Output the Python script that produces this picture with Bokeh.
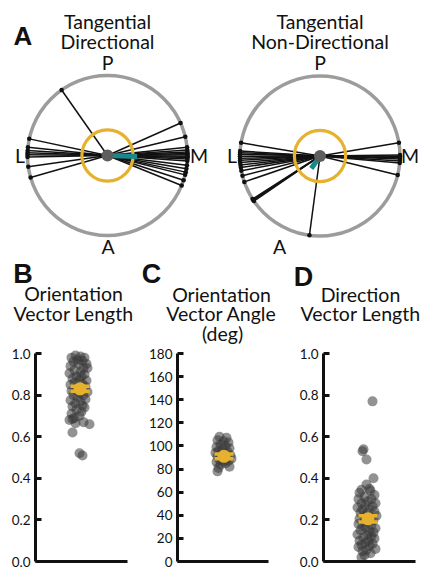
import numpy as np
from bokeh.plotting import figure
from bokeh.layouts import row, column
from bokeh.models import Label, FixedTicker, PrintfTickFormatter, BasicTickFormatter
from bokeh.embed import file_html
from bokeh.resources import INLINE

# ---------------- data ----------------
# Panel A: preferred angles (deg; 0 = M, 90 = P, 180 = L, 270 = A), unit-length vectors
dir_angles = [125, 24, 13.5, 6, 4, 2.5, 1.5, 0.5, -0.5, -1.5, -2.5, -4, -7, -9.5, -12, -14, -18, -22,
              168, 174, 176.5, 178, 179.5, 181, 188, 196]
dir_mean_angle = -2
dir_mean_len = 0.37

nondir_angles = [170.5, 176.5, 177.6, 178.8, 180.2, 181.7, 183.1, 184.7, 186.4, 188.3, 190.6, 194.3,
                 198.9, 212.5, 213.4, 214.3, 262.4, 9.5, 0.7, -0.2, -1.2, -2.1, -3.5, -5.1, -13.8]
nondir_mean_angle = 235
nondir_mean_len = 0.19
sig_radius = 0.32

# Panel B: orientation vector length
B_vals = [0.99, 0.985, 0.98, 0.98, 0.97, 0.965, 0.96, 0.95, 0.95, 0.94, 0.93, 0.93, 0.92, 0.91, 0.905,
          0.90, 0.89, 0.89, 0.88, 0.87, 0.87, 0.86, 0.855, 0.85, 0.84, 0.84, 0.83, 0.83, 0.82, 0.815,
          0.81, 0.80, 0.80, 0.79, 0.78, 0.775, 0.77, 0.76, 0.75, 0.745, 0.74, 0.73, 0.72, 0.71, 0.70,
          0.69, 0.685, 0.68, 0.67, 0.665, 0.66, 0.62, 0.52, 0.51]
B_jitter = [-3, 2, -7, 6, -1, 4, -5, 8, 0, -8, 5, 9, -4, 2, -9, 6, -2, 3, -6, 1, 8, -4, 4, -8, 0,
            7, -3, 3, -7, 9, 1, -5, 5, -1, 7, -8, 2, -3, 4, -6, 6, -2, 3, -7, 1, -4, -6, -9, 5, -3,
            11, -6, 1, 4]
B_mean, B_sem = 0.83, 0.012
B_ticks = [0, 0.2, 0.4, 0.6, 0.8, 1.0]

# Panel C: orientation vector angle (deg)
C_vals = [108, 107, 105, 104, 103, 101, 100, 99, 98, 97, 96, 95, 94, 93, 92, 92, 91, 90, 89, 88,
          87, 87, 86, 85, 84, 82, 81, 78]
C_jitter = [-3, 4, -5, 1, 6, -2, 3, -6, 7, 0, -4, 5, -7, 2, 8, -1, -5, 4, 9, -3, 1, 6, -6, 3, -2,
            7, -4, -5]
C_mean, C_sem = 91, 2
C_ticks = [0, 20, 40, 60, 80, 100, 120, 140, 160, 180]

# Panel D: direction vector length
D_vals = [0.77, 0.54, 0.53, 0.49, 0.40, 0.37, 0.35, 0.345, 0.34, 0.33, 0.32, 0.31, 0.30, 0.30, 0.29,
          0.28, 0.28, 0.27, 0.265, 0.26, 0.25, 0.25, 0.24, 0.235, 0.23, 0.22, 0.22, 0.21, 0.205, 0.20,
          0.19, 0.19, 0.18, 0.175, 0.17, 0.16, 0.16, 0.15, 0.145, 0.14, 0.13, 0.13, 0.12, 0.115, 0.11,
          0.10, 0.10, 0.09, 0.085, 0.08, 0.075, 0.07, 0.06, 0.055, 0.05, 0.04, 0.03, 0.02]
D_jitter = [6, -3, -4, 0, 7, 0, 3, -5, 4, -7, 8, -2, 5, -8, 1, -5, 9, -1, 6, -9, 3, -4, 8, -6, 1,
            10, -3, 4, -7, 7, -2, 2, -8, 5, -4, 9, -1, -6, 3, 7, -9, 1, 5, -3, 8, -7, 2, -1, 6, -5,
            3, -8, 9, 0, -4, 4, -2, -5]
D_mean, D_sem = 0.205, 0.015
D_ticks = [0, 0.2, 0.4, 0.6, 0.8, 1.0]

# ---------------- style ----------------
FONT = "Lato"
TITLE_SIZE = "19.5px"
LETTER_FONT = "Liberation Sans"
LETTER_SIZE = "27px"
RING = "#9C9C9C"
GOLD = "#E6B12C"
TEAL = "#17888C"
DOT = "#5E5E5E"
PTS = "#383838"
INK = "#111111"
SHIFT = 7  # px: rendered baseline sits lower than the anchor


def txt(p, x, y, s, size=TITLE_SIZE, font=FONT, bold=False, align="center"):
    p.add_layout(Label(x=x, y=y, text=s, text_font=font, text_font_size=size,
                       text_font_style="bold" if bold else "normal",
                       text_align=align, text_baseline="alphabetic", text_color=INK))


TOP_H = 260


def polar(page_left, width, cx, cy, angles, mean_angle, mean_len, titles, letter,
          l_x, m_x, a_x):
    S = 80.0  # px per unit radius
    p = figure(width=width, height=TOP_H, output_backend="svg", toolbar_location=None,
               x_range=(-cx / S, (width - cx) / S), y_range=(-(TOP_H - cy) / S, cy / S),
               x_axis_location=None, y_axis_location=None, min_border=0,
               outline_line_color=None)
    p.grid.visible = False
    p.circle(x=[0], y=[0], radius=1, fill_color=None, line_color=RING, line_width=3.5)
    a = np.radians(np.array(angles, dtype=float))
    ex, ey = np.cos(a), np.sin(a)
    p.segment(x0=np.zeros_like(ex), y0=np.zeros_like(ey), x1=ex, y1=ey,
              line_color=INK, line_width=1.5)
    p.scatter(ex, ey, size=4.5, fill_color=INK, line_color=None)
    p.circle(x=[0], y=[0], radius=sig_radius, fill_color=None, line_color=GOLD, line_width=3.2)
    ma = np.radians(mean_angle)
    p.segment(x0=[0], y0=[0], x1=[mean_len * np.cos(ma)], y1=[mean_len * np.sin(ma)],
              line_color=TEAL, line_width=5)
    p.scatter([0], [0], size=12, fill_color=DOT, line_color=None)

    def Y(py):
        return (cy - (py - SHIFT)) / S

    def X(px):
        return (px - page_left - cx) / S

    txt(p, 0, Y(28), titles[0])
    txt(p, 0, Y(48), titles[1])
    txt(p, 0, Y(68.5), "P")
    txt(p, X(l_x), Y(162), "L")
    txt(p, X(m_x), Y(162), "M")
    txt(p, X(a_x), Y(253), "A")
    if letter:
        txt(p, X(22.5), Y(42), letter, size="26px", font=LETTER_FONT, bold=True)
    return p


pa1 = polar(0, 212, 107, 155, dir_angles, dir_mean_angle, dir_mean_len,
            ["Tangential", "Directional"], "A", 19.5, 198.5, 107.5)
pa2 = polar(212, 212, 107.5, 155.5, nondir_angles, nondir_mean_angle, nondir_mean_len,
            ["Tangential", "Non-Directional"], None, 231.5, 409.5, 279)

# ---------------- header for panels B-D ----------------
HEAD_TOP, HEAD_BOT = TOP_H, 345
ph = figure(width=424, height=HEAD_BOT - HEAD_TOP, output_backend="svg", toolbar_location=None,
            x_range=(0, 424), y_range=(HEAD_BOT, HEAD_TOP), x_axis_location=None,
            y_axis_location=None, min_border=0, outline_line_color=None)
ph.grid.visible = False
for letter, lx, lb in [("B", 22.5, 280), ("C", 151, 280), ("D", 303, 283)]:
    txt(ph, lx, lb - SHIFT, letter, size=LETTER_SIZE, font=LETTER_FONT, bold=True)
for t, tx, tb in [("Orientation", 73, 300), ("Vector Length", 73, 320),
                  ("Orientation", 221, 301), ("Vector Angle", 221, 320), ("(deg)", 222, 340),
                  ("Direction", 360, 301), ("Vector Length", 360, 320)]:
    txt(ph, tx, tb - SHIFT, t)

# ---------------- strip plots ----------------
BOT_H = 570 - HEAD_BOT
Y0_PAGE, YT_PAGE = 561, 353   # page y of value 0 and of the top tick


def strip(page_left, width, frame_left, frame_right, center, vals, jitter, mean, sem, ticks,
          formatter):
    top = ticks[-1]
    ymax = top * (Y0_PAGE - HEAD_BOT) / (Y0_PAGE - YT_PAGE)
    p = figure(width=width, height=BOT_H, output_backend="svg", toolbar_location=None,
               x_range=(frame_left - center, frame_right - center), y_range=(0, ymax),
               outline_line_color=None)
    p.min_border_left = frame_left - page_left
    p.min_border_right = page_left + width - frame_right
    p.min_border_top = 0
    p.min_border_bottom = 570 - Y0_PAGE
    p.grid.visible = False
    p.yaxis.ticker = FixedTicker(ticks=ticks)
    p.yaxis.formatter = formatter
    p.yaxis.bounds = (0, top)
    p.yaxis.axis_line_width = 3
    p.yaxis.axis_line_color = INK
    p.yaxis.major_tick_line_width = 3
    p.yaxis.major_tick_line_color = INK
    p.yaxis.major_tick_in = 6
    p.yaxis.major_tick_out = 0
    p.yaxis.minor_tick_line_color = None
    p.yaxis.major_label_text_font = FONT
    p.yaxis.major_label_text_font_size = "13.5px"
    p.yaxis.major_label_text_color = INK
    p.yaxis.major_label_standoff = 5
    p.xaxis.ticker = FixedTicker(ticks=[])
    p.xaxis.axis_line_width = 3
    p.xaxis.axis_line_color = INK
    p.xaxis.major_tick_line_color = None
    p.xaxis.minor_tick_line_color = None
    p.xaxis.major_label_text_font_size = "0px"
    p.xaxis.major_label_standoff = 0

    p.scatter(jitter, vals, size=10, fill_color=PTS, fill_alpha=0.55, line_color=None)
    mx = 1.5
    p.segment(x0=[mx], y0=[mean - sem], x1=[mx], y1=[mean + sem], line_color=GOLD, line_width=5)
    p.scatter([mx, mx], [mean - sem, mean + sem], marker="dash", size=19, line_color=GOLD,
              line_width=3.5)
    p.scatter([mx], [mean], size=13, fill_color=GOLD, line_color=None)
    return p


pb = strip(0, 142, 35, 127, 78, B_vals, B_jitter, B_mean, B_sem, B_ticks,
           PrintfTickFormatter(format="%.1f"))
pc = strip(142, 141, 177, 268, 222, C_vals, C_jitter, C_mean, C_sem, C_ticks,
           BasicTickFormatter())
pd = strip(283, 141, 323, 415, 366, D_vals, D_jitter, D_mean, D_sem, D_ticks,
           PrintfTickFormatter(format="%.1f"))

layout = column(row(pa1, pa2, spacing=0), ph, row(pb, pc, pd, spacing=0), spacing=0)
open("out.html", "w").write(file_html(layout, INLINE))
